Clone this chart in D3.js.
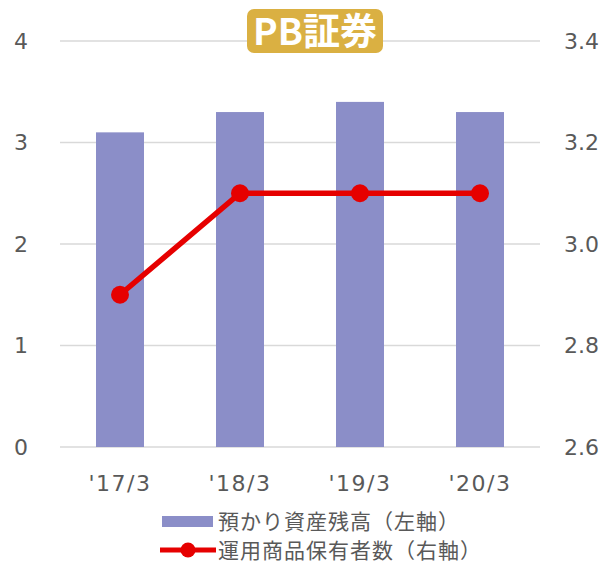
<html>
<head>
<meta charset="utf-8">
<script src="https://d3js.org/d3.v7.min.js"></script>
<style>
  body { margin: 0; background: #fff; }
  text { font-family: "DejaVu Sans", Verdana, sans-serif; }
  .jp { font-family: "Noto Sans CJK JP", sans-serif; }
</style>
</head>
<body>
<div id="chart"></div>
<script>
// data
var periods = ["'17/3", "'18/3", "'19/3", "'20/3"];
var balance = [3.1, 3.3, 3.4, 3.3];      // 預かり資産残高 (left axis)
var holders = [2.9, 3.1, 3.1, 3.1];      // 運用商品保有者数 (right axis)
var leftTicks = [0, 1, 2, 3, 4];
var rightTicks = [2.6, 2.8, 3.0, 3.2, 3.4];
var title = "PB証券";
var legendNames = ["預かり資産残高（左軸）", "運用商品保有者数（右軸）"];

var W = 604, H = 564;
var plot = {left: 60, right: 540, top: 41, bottom: 447};

var svg = d3.select("#chart").append("svg")
  .attr("width", W).attr("height", H);

var x = d3.scaleBand().domain(periods)
  .range([plot.left, plot.right]).paddingInner(0.6).paddingOuter(0.3);
var yL = d3.scaleLinear().domain([0, 4]).range([plot.bottom, plot.top]);
var yR = d3.scaleLinear().domain([2.6, 3.4]).range([plot.bottom, plot.top]);

// gridlines
svg.append("g").selectAll("line").data(leftTicks).enter().append("line")
  .attr("x1", plot.left).attr("x2", plot.right)
  .attr("y1", function(d){ return yL(d); })
  .attr("y2", function(d){ return yL(d); })
  .attr("stroke", "#d9d9d9").attr("stroke-width", 1.5);

// left axis labels
svg.append("g").selectAll("text").data(leftTicks).enter().append("text")
  .attr("x", 28).attr("y", function(d){ return yL(d); })
  .attr("dy", "0.36em").attr("text-anchor", "end")
  .attr("font-size", 22).attr("fill", "#595959")
  .text(function(d){ return d; });

// right axis labels
svg.append("g").selectAll("text").data(rightTicks).enter().append("text")
  .attr("x", 599).attr("y", function(d){ return yR(d); })
  .attr("dy", "0.36em").attr("text-anchor", "end")
  .attr("font-size", 22).attr("fill", "#595959")
  .text(function(d){ return d.toFixed(1); });

// x labels
svg.append("g").selectAll("text").data(periods).enter().append("text")
  .attr("x", function(d){ return x(d) + x.bandwidth() / 2; })
  .attr("y", 483).attr("dy", "0.36em").attr("text-anchor", "middle")
  .attr("font-size", 22).attr("letter-spacing", 1.5).attr("fill", "#595959")
  .text(function(d){ return d; });

// bars
svg.append("g").selectAll("rect").data(balance).enter().append("rect")
  .attr("x", function(d, i){ return x(periods[i]); })
  .attr("width", x.bandwidth())
  .attr("y", function(d){ return yL(d); })
  .attr("height", function(d){ return yL(0) - yL(d); })
  .attr("fill", "#8b8ec8");

// line
var line = d3.line()
  .x(function(d, i){ return x(periods[i]) + x.bandwidth() / 2; })
  .y(function(d){ return yR(d); });
svg.append("path").datum(holders)
  .attr("d", line).attr("fill", "none")
  .attr("stroke", "#e60000").attr("stroke-width", 5.5);
svg.append("g").selectAll("circle").data(holders).enter().append("circle")
  .attr("cx", function(d, i){ return x(periods[i]) + x.bandwidth() / 2; })
  .attr("cy", function(d){ return yR(d); })
  .attr("r", 9).attr("fill", "#e60000");

// title badge
svg.append("rect")
  .attr("x", 247).attr("y", 9).attr("width", 136).attr("height", 44)
  .attr("rx", 7).attr("fill", "#dab042");
svg.append("text").attr("class", "jp")
  .attr("x", 315).attr("y", 32).attr("dy", "0.36em")
  .attr("text-anchor", "middle").attr("font-size", 37).attr("font-weight", "bold")
  .attr("fill", "#fff").text(title);

// legend
var lg = svg.append("g");
lg.append("rect").attr("x", 162).attr("y", 516).attr("width", 51).attr("height", 11)
  .attr("fill", "#8b8ec8");
lg.append("line").attr("x1", 160).attr("x2", 216).attr("y1", 550).attr("y2", 550)
  .attr("stroke", "#e60000").attr("stroke-width", 5);
lg.append("circle").attr("cx", 188).attr("cy", 550).attr("r", 7.5).attr("fill", "#e60000");
lg.selectAll("text.lt").data(legendNames).enter().append("text")
  .attr("class", "jp")
  .attr("x", 218).attr("y", function(d, i){ return 521 + i * 29; })
  .attr("dy", "0.36em").attr("font-size", 21).attr("letter-spacing", 1).attr("fill", "#595959")
  .text(function(d){ return d; });
</script>
</body>
</html>
